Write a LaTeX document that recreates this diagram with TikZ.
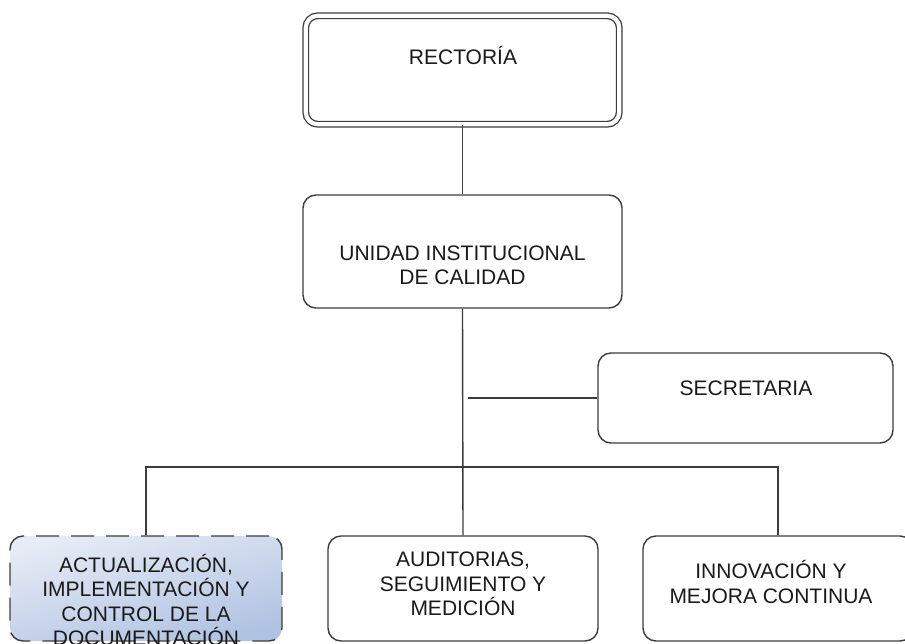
\documentclass[tikz,border=0pt]{standalone}
\usepackage{fontspec}
\setmainfont{Liberation Sans}
\definecolor{linegray}{HTML}{3C3C3C}
\definecolor{textgray}{HTML}{1A1A1A}
\definecolor{shadetop}{HTML}{E6EBF5}
\definecolor{shadebot}{HTML}{B0C2E2}
\begin{document}
\begin{tikzpicture}[x=1pt,y=-1pt,
  box/.style={draw=linegray, line width=1.4pt, rounded corners=13pt, fill=white, inner sep=0pt},
  dblbox/.style={draw=linegray, line width=1.3pt, double=white, double distance=4.2pt, rounded corners=12pt, inner sep=0pt},
  dashbox/.style={draw=linegray, line width=1.4pt, rounded corners=13pt, inner sep=0pt,
    dash pattern=on 23pt off 12pt, top color=shadetop, bottom color=shadebot, shading angle=15},
  lbl/.style={font=\fontsize{21}{24.5}\selectfont, text=textgray, align=center, inner sep=0pt},
  link/.style={draw=linegray, line width=1.4pt}]
\useasboundingbox (0,0) rectangle (905,643);
\clip (0,0) rectangle (905,643);
\fill[white] (0,0) rectangle (905,643);

% boxes
\node[dblbox, minimum width=313.5pt, minimum height=108.5pt] (r) at (462.5,70) {};
\node[box, minimum width=319pt, minimum height=113pt] (u) at (462.5,251.5) {};
\node[box, minimum width=295pt, minimum height=90pt] (s) at (745.5,398) {};
\node[dashbox, minimum width=272pt, minimum height=105pt] (a) at (146,588.5) {};
\node[box, minimum width=270pt, minimum height=105pt] (m) at (463,588.5) {};
\node[box, minimum width=270pt, minimum height=105pt] (n) at (778,588.5) {};

% texts
\node[lbl] (rt) at (463,55) {RECTORÍA};
\node[lbl] (ut) at (462.5,265.5) {UNIDAD INSTITUCIONAL\\DE CALIDAD};
\node[lbl] (st) at (746,388) {SECRETARIA};
\node[lbl] (at) at (146,600) {ACTUALIZACIÓN,\\IMPLEMENTACIÓN Y\\CONTROL DE LA\\DOCUMENTACIÓN};
\node[lbl] (mt) at (463,584) {AUDITORIAS,\\SEGUIMIENTO Y\\MEDICIÓN};
\node[lbl] (nt) at (771,582) {INNOVACIÓN Y\\MEJORA CONTINUA};

% connectors
\coordinate (bus) at (463,467);
\coordinate (sj) at (468,398);
\draw[link] (r.south) -- (u.north);
\draw[link] (u.south) -- (m.north);
\draw[link] (sj) -- (s.west);
\draw[link] (a.north) |- (bus) -| (n.north);
\end{tikzpicture}
\end{document}
